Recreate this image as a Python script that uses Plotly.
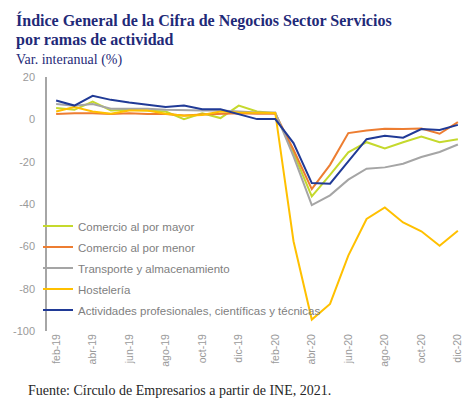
import plotly.graph_objects as go

# ---------------- data ----------------
months = ["feb-19", "mar-19", "abr-19", "may-19", "jun-19", "jul-19", "ago-19",
          "sep-19", "oct-19", "nov-19", "dic-19", "ene-20", "feb-20", "mar-20",
          "abr-20", "may-20", "jun-20", "jul-20", "ago-20", "sep-20", "oct-20",
          "nov-20", "dic-20"]

comercio_mayor = [5.3, 4.5, 8.4, 4.2, 4.5, 4.2, 3.7, 0.1, 2.9, 0.6, 6.5, 3.7, 2.9,
                  -15.9, -36.4, -26.2, -15.6, -10.8, -13.8, -10.8, -8.1, -10.8, -9.4]
comercio_menor = [2.5, 2.9, 2.9, 2.5, 2.9, 2.5, 2.5, 1.8, 2.3, 2.6, 2.9, 2.6, 2.6,
                  -14.4, -33.0, -21.5, -6.5, -5.3, -4.5, -4.6, -4.3, -6.8, -1.3]
transporte = [7.2, 6.4, 7.2, 5.0, 5.0, 5.0, 4.5, 4.2, 4.2, 4.2, 3.7, 3.2, 3.2,
              -17.5, -40.5, -35.9, -28.5, -23.3, -22.7, -21.0, -17.8, -15.4, -11.9]
hosteleria = [3.7, 5.8, 3.7, 2.6, 4.2, 4.2, 2.6, 1.7, 2.1, 3.7, 3.2, 3.2, 3.0,
              -57.6, -94.6, -87.2, -64.4, -47.1, -41.6, -48.7, -52.9, -59.7, -52.6]
actividades = [8.9, 6.5, 11.1, 9.2, 7.9, 6.7, 5.8, 6.5, 4.8, 4.8, 2.6, 0.1, 0.1,
               -11.2, -30.1, -30.4, -19.9, -9.4, -7.8, -8.7, -4.6, -5.0, -2.6]

series_names = ["Comercio al por mayor", "Comercio al por menor",
                "Transporte y almacenamiento", "Hostelería",
                "Actividades profesionales, científicas y técnicas"]
series_values = [comercio_mayor, comercio_menor, transporte, hosteleria, actividades]
series_colors = ["#C5D92D", "#ED7D31", "#A5A5A5", "#FFC000", "#203A96"]

x_tick_labels = months[::2]
y_tick_vals = [20, 0, -20, -40, -60, -80, -100]
y_tick_text = ["20", "0", "-20", "-40", "-60", "-80", "-100"]

title_line1 = "Índice General de la Cifra de Negocios Sector Servicios"
title_line2 = "por ramas de actividad"
subtitle = "Var. interanual (%)"
source = "Fuente: Círculo de Empresarios a partir de INE, 2021."

# ---------------- figure ----------------
OFF = 8  # default page margin of the html body
W, H = 473 - OFF, 408 - OFF
L, R, T, B = 39, 6, 69, 77
pw, ph = W - L - R, H - T - B


def px_x(page_px):
    return (page_px - OFF - L) / pw


def px_y(page_py):
    return (H - B - (page_py - OFF)) / ph


axis_grey = "#A6A6A6"
text_grey = "#808080"
tick_grey = "#9A9A9A"
navy = "#1F2A78"
serif = "Liberation Serif, Times New Roman, serif"

fig = go.Figure()
for name, vals, color in zip(series_names, series_values, series_colors):
    fig.add_trace(go.Scatter(
        x=months, y=vals, name=name, mode="lines",
        line=dict(color=color, width=2), legendgroup=name,
    ))

fig.update_layout(
    width=W, height=H,
    margin=dict(l=L, r=R, t=T, b=B, pad=0),
    paper_bgcolor="white", plot_bgcolor="white",
    font=dict(family="Liberation Sans, Arial, sans-serif", color=text_grey, size=11),
    showlegend=True,
    legend=dict(
        x=px_x(38), y=px_y(211.5), xanchor="left", yanchor="top",
        bgcolor="rgba(0,0,0,0)", font=dict(size=11.5, color=text_grey),
        tracegroupgap=2,
    ),
    xaxis=dict(
        type="category", categoryorder="array", categoryarray=months,
        range=[-0.5, len(months) - 0.5],
        tickmode="array", tickvals=x_tick_labels, tickangle=-90,
        tickfont=dict(size=10.5, color=tick_grey),
        showline=False, ticks="", showgrid=False, zeroline=False,
    ),
    xaxis2=dict(
        type="category", overlaying="x", matches="x", anchor="free",
        position=100 / 120, side="bottom",
        showline=True, linecolor=axis_grey, linewidth=1.5,
        ticks="outside", ticklen=4, tickwidth=1.5, tickcolor=axis_grey,
        tickson="boundaries", tickmode="array", tickvals=x_tick_labels,
        showticklabels=False, showgrid=False, zeroline=False,
    ),
    yaxis=dict(
        range=[-100, 20], tickmode="array", tickvals=y_tick_vals, ticktext=y_tick_text,
        showline=True, linecolor=axis_grey, linewidth=1.5, ticks="",
        showgrid=False, zeroline=False, ticklabelstandoff=8,
        tickfont=dict(size=11, color=tick_grey),
    ),
    annotations=[
        dict(text="<b>" + title_line1 + "</b>", xref="paper", yref="paper",
             x=px_x(14), y=px_y(20.5), xanchor="left", yanchor="middle", showarrow=False,
             font=dict(family=serif, size=16, color=navy)),
        dict(text="<b>" + title_line2 + "</b>", xref="paper", yref="paper",
             x=px_x(14), y=px_y(39.5), xanchor="left", yanchor="middle", showarrow=False,
             font=dict(family=serif, size=16, color=navy)),
        dict(text=subtitle, xref="paper", yref="paper",
             x=px_x(14), y=px_y(60), xanchor="left", yanchor="middle", showarrow=False,
             font=dict(family=serif, size=14, color=navy)),
        dict(text=source, xref="paper", yref="paper",
             x=px_x(26), y=px_y(390), xanchor="left", yanchor="middle", showarrow=False,
             font=dict(family=serif, size=14, color="#262626")),
    ],
)

fig.write_html("out.html")
